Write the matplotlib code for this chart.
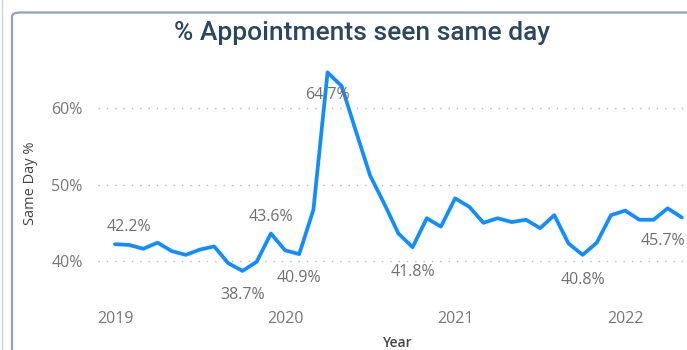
import matplotlib
matplotlib.use("Agg")
import matplotlib.pyplot as plt
from matplotlib.patches import FancyBboxPatch
from matplotlib.lines import Line2D

# ---- data ----
months = list(range(41))  # Jan 2019 .. May 2022
same_day = [42.2, 42.1, 41.6, 42.4, 41.3, 40.8, 41.5, 41.9, 39.7, 38.7, 39.9, 43.6,
            41.4, 40.9, 46.7, 64.7, 62.9, 57.0, 51.2, 47.5, 43.6, 41.8, 45.6, 44.5,
            48.2, 47.1, 45.0, 45.6, 45.1, 45.4, 44.3, 46.0, 42.3, 40.8, 42.4, 46.0,
            46.6, 45.4, 45.4, 46.9, 45.7]
year_ticks = [0, 12, 24, 36]
year_labels = ["2019", "2020", "2021", "2022"]
y_ticks = [40, 50, 60]
y_tick_labels = ["40%", "50%", "60%"]
# labelled points: (index, text, dx_px, dy_px)
label_points = [(0, "42.2%", 14, 17), (9, "38.7%", 0, -24), (11, "43.6%", 0, 17),
                (13, "40.9%", 0, -24), (15, "64.7%", 0, -23), (21, "41.8%", 0, -25),
                (33, "40.8%", 0, -25), (40, "45.7%", -19, -24)]

W, H = 687, 350
fig = plt.figure(figsize=(W / 100, H / 100), dpi=100)
fig.patch.set_facecolor("white")

# card border
card = FancyBboxPatch((12 / W, -0.2), 1.2, (H - 12.5) / H + 0.2,
                      boxstyle="round,pad=0,rounding_size=0.012",
                      transform=fig.transFigure, fill=False,
                      edgecolor="#8ea3b8", linewidth=1.6, zorder=0)
fig.patches.append(card)
fig.lines.append(Line2D([1.5 / W, 1.5 / W], [0, 1], transform=fig.transFigure,
                        color="#c9d4df", linewidth=1.0))

ax = fig.add_axes([98 / W, 50 / H, 599 / W, 235 / H])
ax.set_facecolor("none")
ax.plot(months, same_day, color="#118DFF", linewidth=2.7, solid_joinstyle="round",
        solid_capstyle="round", zorder=3, clip_on=False)

ax.set_xlim(-1.2, 41.07)
ax.set_ylim(34.89, 65.67)
ax.set_xticks(year_ticks)
ax.set_xticklabels(year_labels)
ax.set_yticks(y_ticks)
ax.set_yticklabels(y_tick_labels)
for s in ax.spines.values():
    s.set_visible(False)
ax.tick_params(axis="both", length=0, colors="#777777", labelsize=11.5)
ax.tick_params(axis="x", pad=8)
ax.tick_params(axis="y", pad=11)
for lab in ax.get_xticklabels() + ax.get_yticklabels():
    lab.set_fontfamily("Open Sans")
ax.grid(axis="y", linestyle=(0, (1, 5)), color="#b8b8b8", linewidth=1.0)
ax.grid(axis="x", visible=False)

for idx, txt, dx, dy in label_points:
    ax.annotate(txt, (months[idx], same_day[idx]), xytext=(dx, dy),
                textcoords="offset pixels", ha="center", va="center",
                fontsize=11.5, color="#707070", family="Open Sans", zorder=4)

fig.text(362 / W, 1 - 33 / H, "% Appointments seen same day", ha="center", va="center",
         fontsize=19, color="#2a4661", family="Roboto", fontweight="medium")
fig.text(31 / W, 1 - 183.5 / H, "Same Day %", rotation=90, ha="center", va="center",
         fontsize=10.5, color="#444444", family="Open Sans")
fig.text(397 / W, 1 - 343 / H, "Year", ha="center", va="center",
         fontsize=10, color="#444444", family="Open Sans", fontweight="semibold")

fig.savefig("out.png", dpi=100, facecolor="white")
